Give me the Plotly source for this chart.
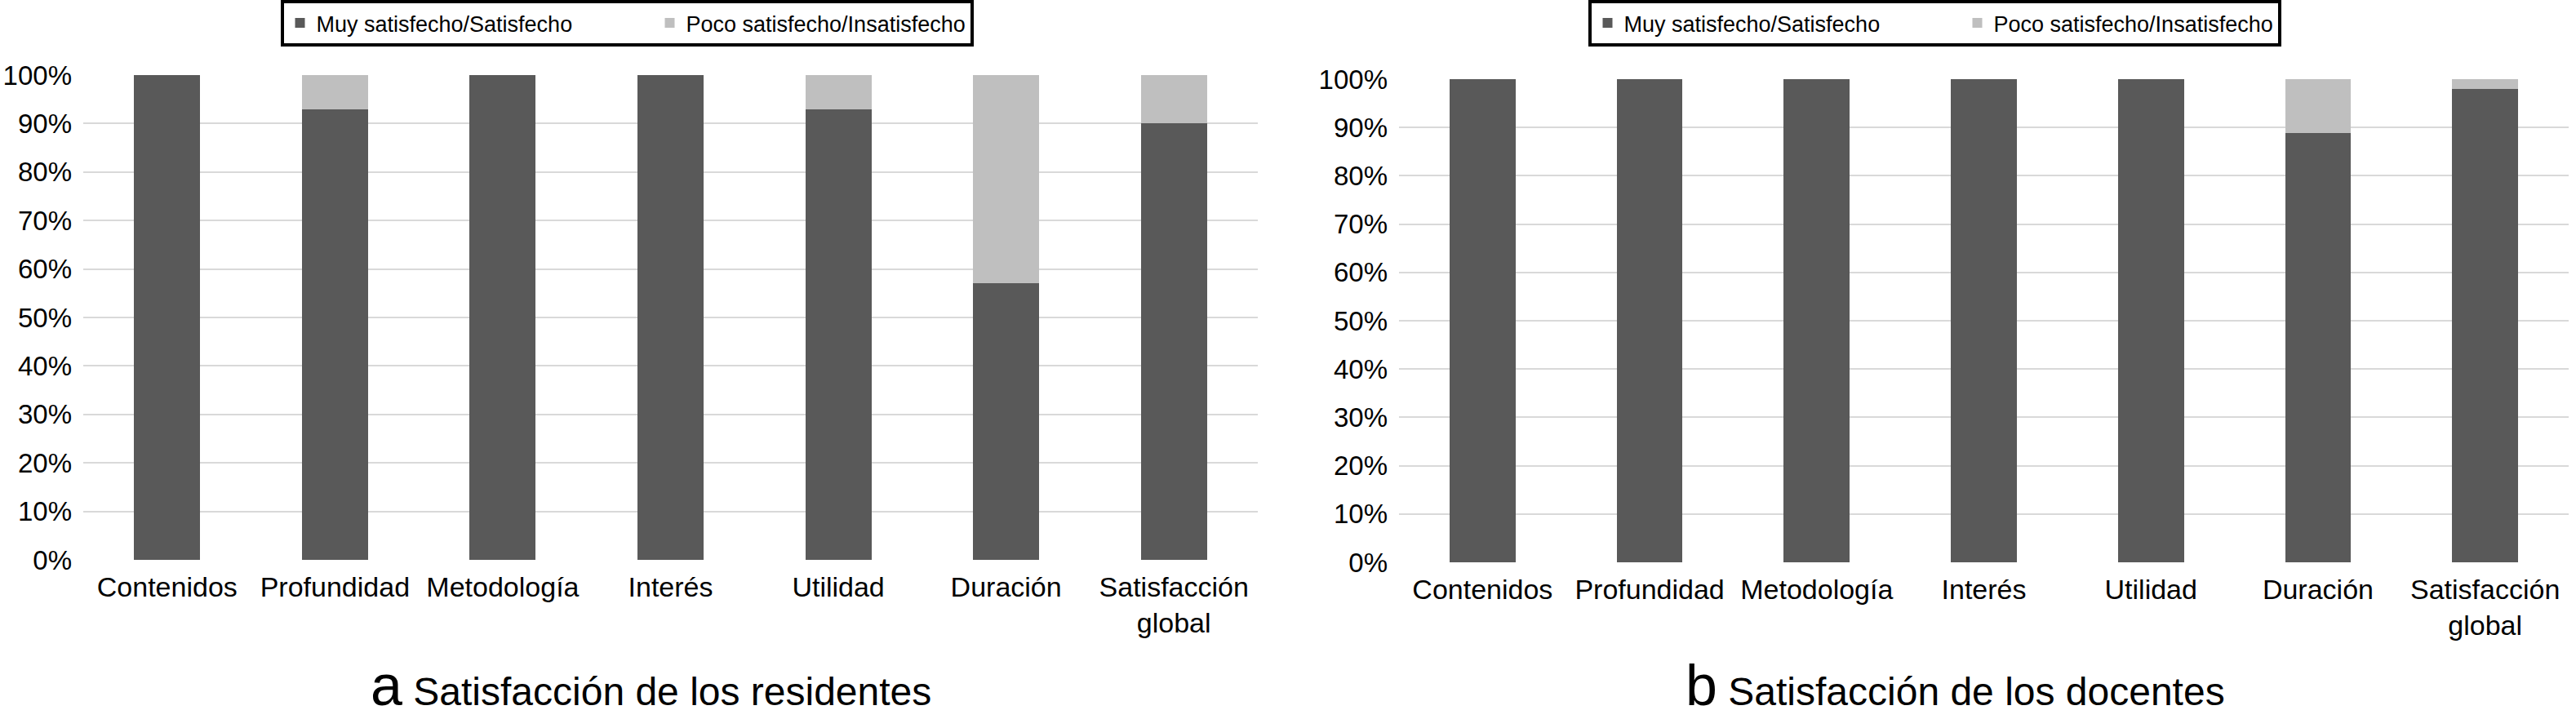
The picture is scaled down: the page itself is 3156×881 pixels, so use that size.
import plotly.graph_objects as go

categories = ["Contenidos", "Profundidad", "Metodología", "Interés", "Utilidad", "Duración", "Satisfacción<br>global"]
series_names = ["Muy satisfecho/Satisfecho", "Poco satisfecho/Insatisfecho"]

# Panel a: residentes (fractions)
res_sat = [1.0, 0.929, 1.0, 1.0, 0.929, 0.571, 0.90]
res_insat = [0.0, 0.071, 0.0, 0.0, 0.071, 0.429, 0.10]

# Panel b: docentes (fractions)
doc_sat = [1.0, 1.0, 1.0, 1.0, 1.0, 0.889, 0.98]
doc_insat = [0.0, 0.0, 0.0, 0.0, 0.0, 0.111, 0.02]

panel_titles = ["a", "b"]
panel_subtitles = ["Satisfacción de los residentes", "Satisfacción de los docentes"]

dark = "#595959"
light = "#bfbfbf"
grid = "#d9d9d9"
FONT = "Liberation Sans, Arial, Helvetica, sans-serif"

fig = go.Figure()

for xa, ya, leg, sat, insat in [("x", "y", "legend", res_sat, res_insat),
                                ("x2", "y2", "legend2", doc_sat, doc_insat)]:
    fig.add_trace(go.Bar(x=categories, y=sat, name=series_names[0], marker=dict(color=dark, line=dict(width=0)),
                         xaxis=xa, yaxis=ya, legend=leg, legendwidth=408))
    fig.add_trace(go.Bar(x=categories, y=insat, name=series_names[1], marker=dict(color=light, line=dict(width=0)),
                         xaxis=xa, yaxis=ya, legend=leg))

H = 881.0
W = 3156.0

def yaxis_cfg(dom, anchor):
    return dict(domain=dom, anchor=anchor, range=[0, 1], tickvals=[i / 10 for i in range(11)], tickformat=".0%",
                showgrid=True, gridcolor=grid, gridwidth=2, zeroline=False, showline=False,
                ticks="", tickfont=dict(size=33, color="black", family=FONT), ticklabelstandoff=13,
                fixedrange=True)

def xaxis_cfg(dom, anchor):
    return dict(domain=dom, anchor=anchor, showgrid=False, zeroline=False, showline=False, ticks="",
                tickfont=dict(size=34, color="black", family=FONT), tickangle=0, fixedrange=True,
                ticklabelstandoff=10)

legend_common = dict(orientation="h", yanchor="top", y=1.0, xanchor="center",
                     bordercolor="black", borderwidth=4, bgcolor="white",
                     font=dict(size=27, color="black", family=FONT), traceorder="normal",
                     itemclick=False, itemdoubleclick=False)

fig.update_layout(
    width=3156, height=881,
    margin=dict(l=0, r=0, t=0, b=0, pad=0, autoexpand=False),
    paper_bgcolor="white", plot_bgcolor="white",
    barmode="stack", bargap=0.606,
    font=dict(family=FONT, color="black"),
    xaxis=xaxis_cfg([102 / W, 1541 / W], "y"),
    yaxis=yaxis_cfg([(H - 686) / H, (H - 92) / H], "x"),
    xaxis2=xaxis_cfg([1714 / W, 3147 / W], "y2"),
    yaxis2=yaxis_cfg([(H - 689) / H, (H - 97) / H], "x2"),
    legend=dict(legend_common, x=768 / W),
    legend2=dict(legend_common, x=2370 / W),
    showlegend=True,
    hovermode=False,
)

for i, cx in enumerate([797 / W, 2395 / W]):
    fig.add_annotation(
        x=cx, y=(H - 840) / H, xref="paper", yref="paper", xanchor="center", yanchor="middle",
        text="<span style='font-size:70px'>" + panel_titles[i] + "</span> " + panel_subtitles[i],
        showarrow=False, font=dict(size=48, color="black", family=FONT),
    )

fig.write_html("out.html", config={"displayModeBar": False, "staticPlot": True},
               post_script="document.body.style.margin='0px';document.body.style.overflow='hidden';")
